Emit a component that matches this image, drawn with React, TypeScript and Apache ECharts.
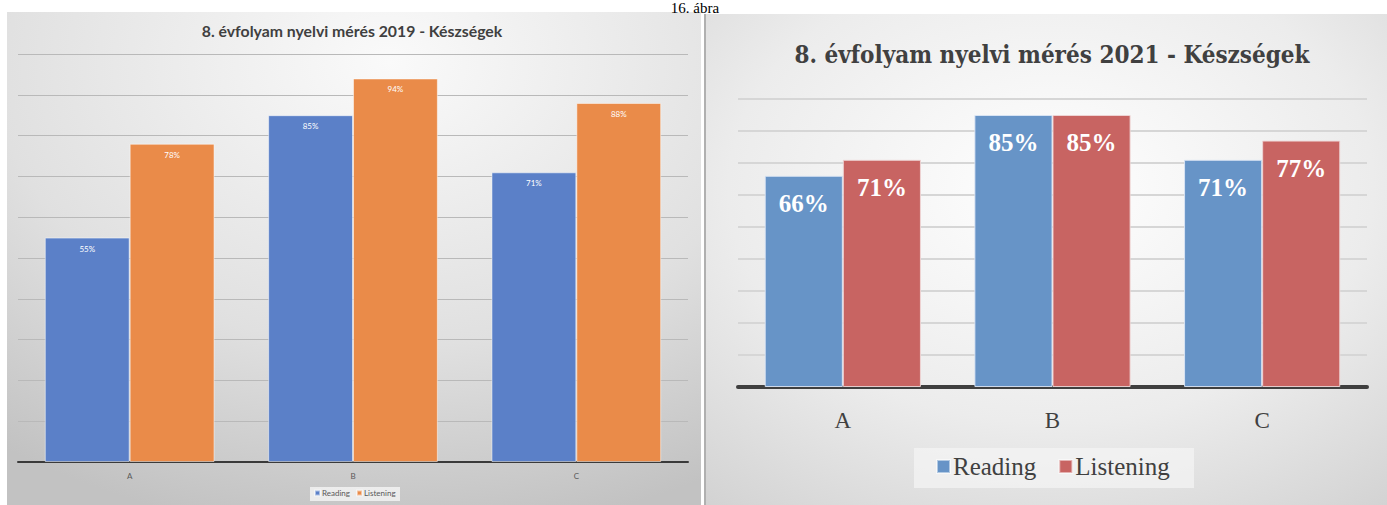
import React, { useEffect, useRef } from "react";
import * as echarts from "echarts";

const categories = ["A", "B", "C"];
const reading2019 = [55, 85, 71];
const listening2019 = [78, 94, 88];
const reading2021 = [66, 85, 71];
const listening2021 = [71, 85, 77];
const seriesNames = ["Reading", "Listening"];
const title2019 = "8. évfolyam nyelvi mérés 2019 - Készségek";
const title2021 = "8. évfolyam nyelvi mérés 2021 - Készségek";
const figureCaption = "16. ábra";

const C19_READ = "#5b80c8";
const C19_LIST = "#ea8b49";
const C21_READ = "#6794c7";
const C21_LIST = "#c86462";

export default function App() {
  const ref = useRef<HTMLDivElement>(null);
  useEffect(() => {
    if (!ref.current) return;
    const chart = echarts.init(ref.current, undefined, { renderer: "svg" });
    const sansN = "Lato, 'Liberation Sans Narrow', sans-serif";
    const serif = "'Liberation Serif', serif";
    const serifC = "'DejaVu Serif Condensed', 'Liberation Serif', serif";
    chart.setOption({
      animation: false,
      graphic: [
        {
          type: "rect",
          z: -10,
          shape: { x: 7, y: 12, width: 694, height: 500 },
          style: {
            fill: new echarts.graphic.RadialGradient(0.55, 0.1, 0.95, [
              { offset: 0, color: "#fafafa" },
              { offset: 0.6, color: "#e0e0e0" },
              { offset: 1, color: "#c2c2c2" },
            ]),
          },
        },
        {
          type: "rect",
          z: -10,
          shape: { x: 706, y: 14, width: 690, height: 500 },
          style: {
            fill: new echarts.graphic.RadialGradient(0.5, 0.35, 0.85, [
              { offset: 0, color: "#ffffff" },
              { offset: 0.55, color: "#ececec" },
              { offset: 1, color: "#cfcfcf" },
            ]),
          },
        },
        {
          type: "line",
          z: -9,
          shape: { x1: 705, y1: 14, x2: 705, y2: 505 },
          style: { stroke: "#b0b0b0", lineWidth: 2 },
        },
        {
          type: "rect",
          z: -5,
          shape: { x: 310, y: 487, width: 90, height: 14 },
          style: { fill: "rgba(245,245,245,0.8)" },
        },
        {
          type: "rect",
          z: -5,
          shape: { x: 914, y: 448, width: 280, height: 40 },
          style: { fill: "rgba(245,245,245,0.7)" },
        },
        {
          type: "text",
          x: 695,
          y: 0,
          z: 10,
          style: {
            text: figureCaption,
            fontFamily: serif,
            fontSize: 15,
            fill: "#000",
            textAlign: "center",
            textVerticalAlign: "top",
          },
        },
      ],
      title: [
        {
          text: title2019,
          left: 352,
          top: 22,
          textAlign: "center",
          padding: 0,
          textStyle: { fontFamily: sansN, fontSize: 15.8, fontWeight: "bold", color: "#404040" },
        },
        {
          text: title2021,
          left: 1052,
          top: 42,
          textAlign: "center",
          padding: 0,
          textStyle: { fontFamily: serifC, fontSize: 24, fontWeight: "bold", color: "#404040" },
        },
      ],
      legend: [
        {
          left: 314,
          top: 489,
          padding: 0,
          itemWidth: 5,
          itemHeight: 5,
          itemGap: 6,
          icon: "rect",
          textStyle: { fontFamily: sansN, fontSize: 8, color: "#595959", padding: [0, 0, 0, -3] },
          data: [
            { name: seriesNames[0], itemStyle: { color: C19_READ } },
            { name: seriesNames[1], itemStyle: { color: C19_LIST } },
          ],
        },
        {
          left: 936,
          top: 454,
          padding: 0,
          itemWidth: 13,
          itemHeight: 13,
          itemGap: 22,
          icon: "rect",
          textStyle: { fontFamily: serif, fontSize: 25, color: "#404040", padding: [0, 0, 0, -2] },
          data: [
            { name: seriesNames[0], itemStyle: { color: C21_READ } },
            { name: seriesNames[1], itemStyle: { color: C21_LIST } },
          ],
        },
      ],
      grid: [
        { left: 18, right: 699, top: 54, bottom: 43 },
        { left: 738, right: 20, top: 99, bottom: 118 },
      ],
      xAxis: [
        {
          type: "category",
          gridIndex: 0,
          data: categories,
          axisTick: { show: false },
          axisLine: { lineStyle: { color: "#3a3a3a", width: 2 } },
          axisLabel: { fontFamily: sansN, fontSize: 8, color: "#595959", margin: 10 },
        },
        {
          type: "category",
          gridIndex: 1,
          data: categories,
          axisTick: { show: false },
          axisLine: { lineStyle: { color: "#3f3f3f", width: 4 } },
          axisLabel: { fontFamily: serif, fontSize: 23, color: "#404040", margin: 22 },
        },
      ],
      yAxis: [
        {
          type: "value",
          gridIndex: 0,
          min: 0,
          max: 100,
          interval: 10,
          axisLabel: { show: false },
          axisLine: { show: false },
          axisTick: { show: false },
          splitLine: { lineStyle: { color: "#b9b9b9", width: 1 } },
        },
        {
          type: "value",
          gridIndex: 1,
          min: 0,
          max: 90,
          interval: 10,
          axisLabel: { show: false },
          axisLine: { show: false },
          axisTick: { show: false },
          splitLine: { lineStyle: { color: "#d6d6d6", width: 2 } },
        },
      ],
      series: [
        {
          name: seriesNames[0],
          type: "bar",
          xAxisIndex: 0,
          yAxisIndex: 0,
          data: reading2019,
          barGap: "0%",
          barCategoryGap: "24%",
          itemStyle: { color: C19_READ, borderColor: "rgba(255,255,255,0.5)", borderWidth: 1 },
          label: {
            show: true,
            position: "insideTop",
            distance: 7,
            formatter: "{c}%",
            color: "#ffffff",
            fontFamily: sansN,
            fontSize: 8,
          },
        },
        {
          name: seriesNames[1],
          type: "bar",
          xAxisIndex: 0,
          yAxisIndex: 0,
          data: listening2019,
          barGap: "0%",
          barCategoryGap: "24%",
          itemStyle: { color: C19_LIST, borderColor: "rgba(255,255,255,0.5)", borderWidth: 1 },
          label: {
            show: true,
            position: "insideTop",
            distance: 7,
            formatter: "{c}%",
            color: "#ffffff",
            fontFamily: sansN,
            fontSize: 8,
          },
        },
        {
          name: seriesNames[0],
          type: "bar",
          xAxisIndex: 1,
          yAxisIndex: 1,
          data: reading2021,
          barGap: "0%",
          barCategoryGap: "25.5%",
          itemStyle: { color: C21_READ, borderColor: "rgba(220,230,245,0.9)", borderWidth: 1 },
          label: {
            show: true,
            position: "insideTop",
            distance: 15,
            formatter: "{c}%",
            color: "#ffffff",
            fontFamily: serif,
            fontWeight: "bold",
            fontSize: 25,
          },
        },
        {
          name: seriesNames[1],
          type: "bar",
          xAxisIndex: 1,
          yAxisIndex: 1,
          data: listening2021,
          barGap: "0%",
          barCategoryGap: "25.5%",
          itemStyle: { color: C21_LIST, borderColor: "rgba(240,215,215,0.9)", borderWidth: 1 },
          label: {
            show: true,
            position: "insideTop",
            distance: 15,
            formatter: "{c}%",
            color: "#ffffff",
            fontFamily: serif,
            fontWeight: "bold",
            fontSize: 25,
          },
        },
      ],
    });
    return () => chart.dispose();
  }, []);
  return (
    <div
      ref={ref}
      style={{ position: "fixed", left: 0, top: 0, width: 1387, height: 505, background: "#ffffff" }}
    />
  );
}
